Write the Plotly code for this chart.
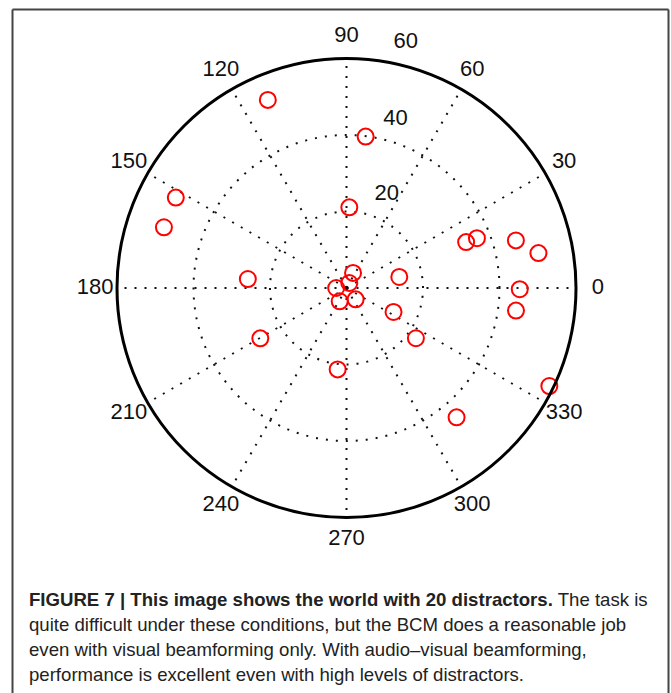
import plotly.graph_objects as go

# Data: polar positions (radius, angle in degrees) of the red circles
r_vals = [53.3, 39.9, 50.5, 50.3, 21.1, 33.5, 36.5, 46.0, 51.0, 25.9,
          14.1, 4.3, 1.5, 2.7, 45.3, 3.9, 3.8, 13.8, 44.7, 26.1,
          22.4, 21.4, 58.9, 44.4]
theta_vals = [112.7, 82.8, 152.1, 161.6, 88.0, 21.0, 20.9, 15.7, 10.3, 174.8,
              11.8, 66.6, 60.8, 180.0, 359.6, 242.9, 308.8, 333.0, 352.4, 210.3,
              324.1, 263.8, 334.2, 310.4]

radial_ticks = [20, 40, 60]
radial_label_r = [26.5, 45.9, 66.0]
radial_label_theta = [66.6, 73.8, 76.4]
angle_ticks = list(range(0, 360, 30))
angle_label_r = [65.7] * len(angle_ticks)

caption_lines = [
    "<b>FIGURE 7 | This image shows the world with 20 distractors.</b> The task is",
    "quite difficult under these conditions, but the BCM does a reasonable job",
    "even with visual beamforming only. With audio–visual beamforming,",
    "performance is excellent even with high levels of distractors.",
]
caption_y = [599, 624, 649, 674]

W, H = 671, 693


def px(x):
    return x / W


def py(y):
    return 1 - y / H


CX, CY, R = 346.5, 288.0, 229.5          # circle centre / radius in page pixels
R2 = R * 70 / 60                          # outer helper polar for labels

fig = go.Figure()

fig.add_trace(go.Scatterpolar(
    r=r_vals, theta=theta_vals, mode="markers",
    marker=dict(symbol="circle-open", size=16, color="#ff0000",
                line=dict(width=2, color="#ff0000")),
    showlegend=False, hoverinfo="skip", subplot="polar",
))

label_font = dict(family="Liberation Sans, Arial, sans-serif", size=22, color="#111")

fig.add_trace(go.Scatterpolar(
    r=radial_label_r, theta=radial_label_theta, mode="text",
    text=[str(v) for v in radial_ticks], textfont=label_font,
    textposition="middle center", cliponaxis=False,
    showlegend=False, hoverinfo="skip", subplot="polar2",
))

fig.add_trace(go.Scatterpolar(
    r=angle_label_r, theta=angle_ticks, mode="text",
    text=[str(a) for a in angle_ticks], textfont=label_font,
    textposition="middle center", cliponaxis=False,
    showlegend=False, hoverinfo="skip", subplot="polar2",
))

DOT = "2px,8px"

fig.update_layout(
    width=W, height=H,
    margin=dict(l=0, r=0, t=0, b=0),
    paper_bgcolor="white",
    plot_bgcolor="white",
    showlegend=False,
    polar=dict(
        domain=dict(x=[px(CX - R), px(CX + R)], y=[py(CY + R), py(CY - R)]),
        bgcolor="white",
        radialaxis=dict(
            range=[0, 60], tickvals=radial_ticks, showticklabels=False,
            ticks="", showline=False,
            showgrid=True, gridcolor="#111", gridwidth=2, griddash=DOT,
        ),
        angularaxis=dict(
            tickvals=angle_ticks, showticklabels=False, ticks="",
            direction="counterclockwise", rotation=0,
            showline=True, linecolor="#000", linewidth=3,
            showgrid=True, gridcolor="#111", gridwidth=2, griddash=DOT,
        ),
    ),
    polar2=dict(
        domain=dict(x=[px(CX - R2), px(CX + R2)], y=[py(CY + R2), py(CY - R2)]),
        bgcolor="rgba(0,0,0,0)",
        radialaxis=dict(range=[0, 70], visible=False, showgrid=False),
        angularaxis=dict(visible=False, showgrid=False, showline=False,
                         direction="counterclockwise", rotation=0),
    ),
)

frame = dict(color="#444", width=2)
fig.add_shape(type="line", xref="paper", yref="paper",
              x0=px(12.5), x1=px(12.5), y0=0, y1=py(9.5), line=frame)
fig.add_shape(type="line", xref="paper", yref="paper",
              x0=px(668.5), x1=px(668.5), y0=0, y1=py(9.5), line=frame)
fig.add_shape(type="line", xref="paper", yref="paper",
              x0=px(12.5), x1=px(668.5), y0=py(9.5), y1=py(9.5), line=frame)

for txt, yy in zip(caption_lines, caption_y):
    fig.add_annotation(
        text=txt, xref="paper", yref="paper",
        x=px(27), y=py(yy), xanchor="left", yanchor="middle",
        showarrow=False, align="left",
        font=dict(family="Liberation Sans, Arial, sans-serif",
                  size=18.6, color="#222"),
    )

fig.write_html(
    "out.html",
    config={"displayModeBar": False},
    post_script="document.body.style.margin='0';document.body.style.overflow='hidden';",
)
